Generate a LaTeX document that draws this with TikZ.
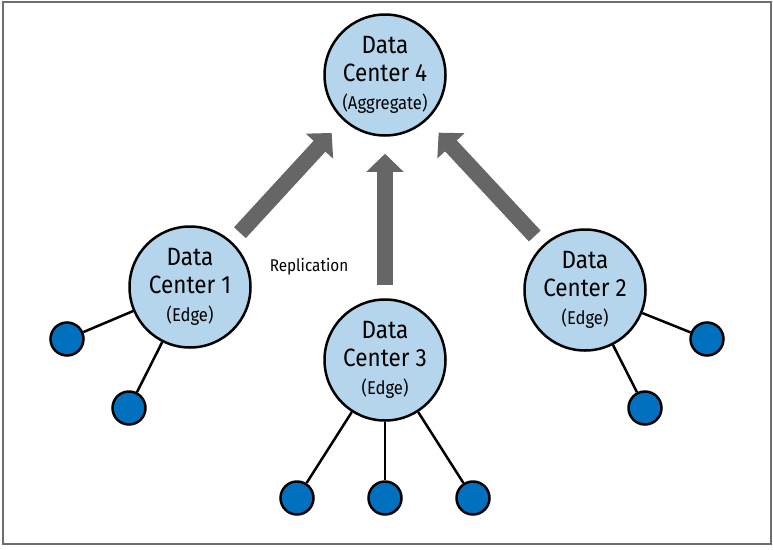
\documentclass[tikz,border=0pt]{standalone}
\usepackage{fontspec}
\setmainfont{Fira Sans}[FakeStretch=0.9]
\usetikzlibrary{arrows.meta}

\definecolor{dcfill}{HTML}{B4D5EB}
\definecolor{hostblue}{HTML}{0070BF}
\definecolor{arrowgray}{HTML}{666666}
\definecolor{framegray}{HTML}{6E6E6E}

\tikzset{
  dc/.style={circle, draw, line width=2.5pt, fill=dcfill, minimum size=121pt,
    inner sep=0pt, align=center, font=\fontsize{25}{28}\selectfont},
  host/.style={circle, draw, line width=2.5pt, fill=hostblue, minimum size=33pt, inner sep=0pt},
  link/.style={line width=2.5pt},
  repl/.style={arrowgray, line width=16pt, -{Triangle[width=36pt,length=18pt]}}
}
\newcommand{\dcsub}[1]{{\fontsize{18.5}{22}\selectfont #1}}

\begin{document}
\begin{tikzpicture}[x=1pt, y=-1pt]
  \useasboundingbox (0,0) rectangle (773,549);
  \draw [framegray, line width=1.5pt] (3,2) rectangle (771,544);

  % data centers
  \node [dc] (dc4) at (385,75) {Data\\Center 4\\\dcsub{(Aggregate)}};
  \node [dc] (dc1) at (190,287) {Data\\Center 1\\\dcsub{(Edge)}};
  \node [dc] (dc2) at (585,290) {Data\\Center 2\\\dcsub{(Edge)}};
  \node [dc] (dc3) at (385,360) {Data\\Center 3\\\dcsub{(Edge)}};

  % edge hosts
  \node [host] (h1a) at (67,339) {};
  \node [host] (h1b) at (129,408) {};
  \node [host] (h2a) at (707,339) {};
  \node [host] (h2b) at (645,408) {};
  \node [host] (h3a) at (297,498) {};
  \node [host] (h3b) at (385,498) {};
  \node [host] (h3c) at (473,498) {};

  \draw [link] (dc1) -- (h1a);
  \draw [link] (dc1) -- (h1b);
  \draw [link] (dc2) -- (h2a);
  \draw [link] (dc2) -- (h2b);
  \draw [link] (dc3) -- (h3a);
  \draw [link] (dc3) -- (h3b);
  \draw [link] (dc3) -- (h3c);

  % replication
  \draw [repl, shorten <=12pt, shorten >=17pt] (dc1) -- (dc4);
  \draw [repl, shorten <=13pt, shorten >=17pt] (dc3) -- (dc4);
  \draw [repl, shorten <=12pt, shorten >=17pt] (dc2) -- (dc4);
  \node (repllabel) at (309,267) {\fontsize{17}{20}\selectfont Replication};
\end{tikzpicture}
\end{document}
